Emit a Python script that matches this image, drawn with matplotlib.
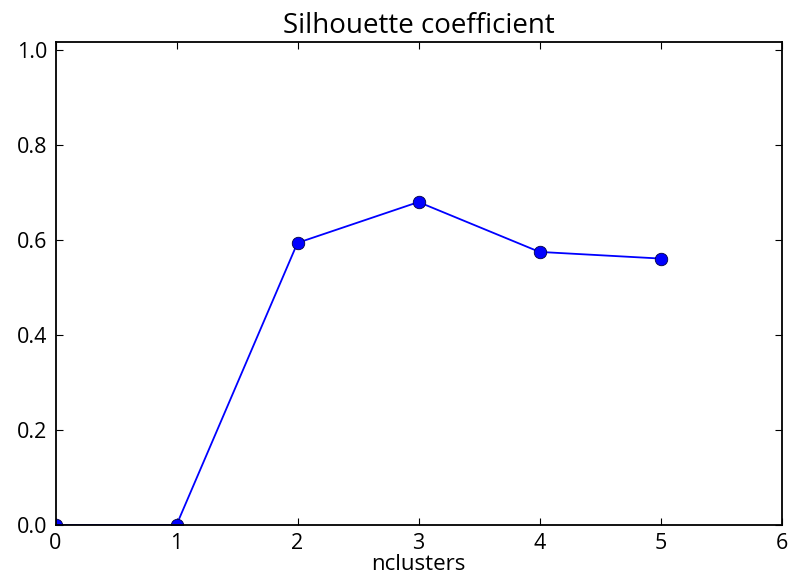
import matplotlib
matplotlib.use('Agg')
import matplotlib.pyplot as plt

plt.rcParams['font.family'] = ['Open Sans', 'DejaVu Sans']

nclusters = [0, 1, 2, 3, 4, 5]
silhouette = [0.0, 0.0, 0.594, 0.680, 0.575, 0.561]

fig = plt.figure(figsize=(7.89, 5.83), dpi=100)
ax = fig.add_axes([55.5/789, 1 - 525/583, (781.5-55.5)/789, (525-41.5)/583])

ax.plot(nclusters, silhouette, '-o', color='#0000ff', lw=1.3,
        markersize=9, markeredgecolor='#000040', markeredgewidth=0.6,
        clip_on=True)

ax.set_xlim(0, 6)
ax.set_ylim(0, 1.018)
ax.set_xticks(range(7))
ax.set_yticks([0.0, 0.2, 0.4, 0.6, 0.8, 1.0])
ax.set_yticklabels(['0.0', '0.2', '0.4', '0.6', '0.8', '1.0'])
ax.tick_params(direction='in', top=True, right=True, length=5, width=0.8,
               labelsize=15.5, pad=6)
for s in ax.spines.values():
    s.set_linewidth(1.3)

ax.set_title('Silhouette coefficient', fontsize=20, pad=6)
ax.set_xlabel('nclusters', fontsize=16, labelpad=0)

plt.savefig('out.png', dpi=100)
